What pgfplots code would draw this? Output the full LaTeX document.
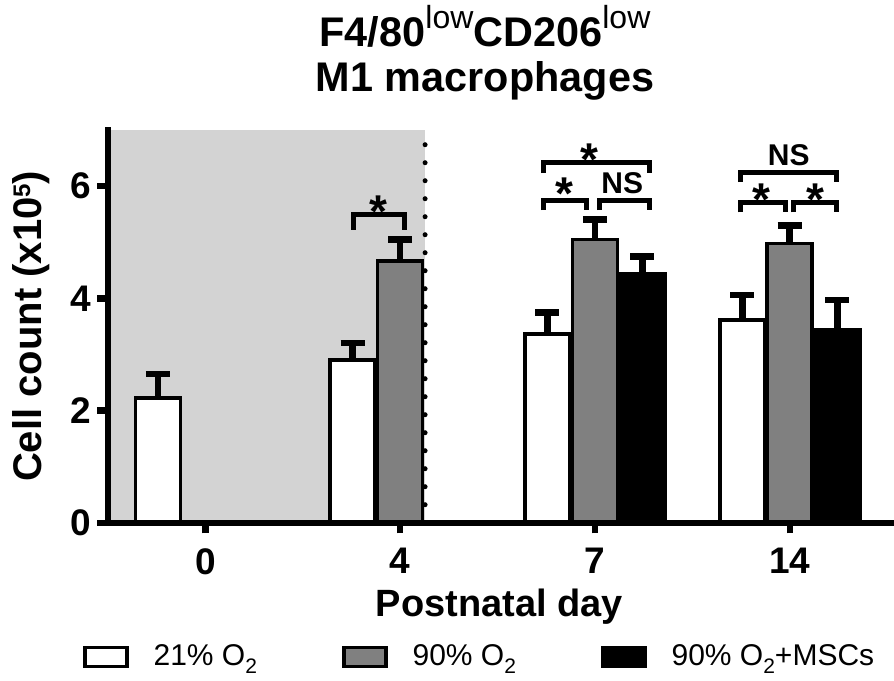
\documentclass[border=0pt]{standalone}
\usepackage{fontspec}
\setmainfont{Liberation Sans}
\usepackage{graphicx}
\usepackage{pgfplots}
\pgfplotsset{compat=1.18}
\usepackage{pgfplotstable}

\definecolor{shade}{RGB}{211,211,211}
\definecolor{midgray}{RGB}{128,128,128}

\newcommand\sups[1]{\raisebox{9pt}{\fontsize{16}{16}\selectfont\mdseries #1}}
\newcommand\sub[1]{\raisebox{-3.9pt}{\fontsize{10.5}{10.5}\selectfont #1}}
\newcommand\st{\raisebox{-0.56em}[0.16em][0.16em]{*}}

\pgfplotstableread{
x y e
0 2.22 0.43
1 2.90 0.30
2 3.36 0.39
3 3.61 0.45
}\airtable
\pgfplotstableread{
x y e
1 4.66 0.39
2 5.05 0.36
3 4.98 0.32
}\hyptable
\pgfplotstableread{
x y e
2 4.44 0.31
3 3.44 0.53
}\msctable

\begin{document}
\begin{tikzpicture}
\begin{axis}[
  at={(0,0)}, anchor=south west,
  scale only axis, width=391.5pt, height=196.35pt,
  xmin=-0.5, xmax=3.52, ymin=0, ymax=7,
  axis lines*=left,
  axis on top,
  axis line style={line width=3.2pt, line cap=rect, black},
  xtick={0,1,2,3}, xticklabels={0,4,7,14},
  ytick={0,2,4,6},
  tick align=outside,
  major tick length=5.3pt,
  tick style={line width=3.2pt, black},
  /pgf/number format/assume math mode=true,
  ticklabel style={font=\fontsize{18.5}{18.5}\selectfont\bfseries, inner sep=0pt},
  xticklabel style={anchor=north, yshift=-7.35pt},
  yticklabel style={anchor=east, xshift=-3pt},
  xlabel={Postnatal day},
  ylabel={Cell count (x10\raisebox{5.8pt}{\fontsize{12}{12}\selectfont 5})},
  xlabel style={font=\fontsize{19}{19}\selectfont\bfseries, at={(axis description cs:0.5,-0.2401)}, anchor=base, inner sep=0pt},
  ylabel style={font=\fontsize{20}{20}\selectfont\bfseries, at={(axis description cs:-0.0847,0.5)}, anchor=base, inner sep=0pt},
  bar width=22.5pt,
  mybar/.style={ybar, bar shift=0pt, line width=1.8pt, draw=black,
    legend image code/.code={\draw[##1, line width=1.8pt] (0pt,-4.75pt) rectangle (21pt,4.75pt);}},
  legend style={draw=none, fill=none, inner sep=0pt, outer sep=0pt,
    at={(axis description cs:-0.0319,-0.342)}, anchor=west,
    legend columns=3,
    /tikz/every odd column/.append style={column sep=12.5pt},
    /tikz/every even column/.append style={column sep=42.5pt},
    font=\fontsize{15}{15}\selectfont,
    nodes={inner sep=0pt}},
  legend cell align=left,
  ebar/.style={error bars/.cd, y dir=plus, y explicit,
    error bar style={line width=3.3pt, black},
    error mark options={rotate=90, line width=3.3pt, mark size=6pt, black}},
]
% shaded hyperoxia period
\addplot[fill=shade, draw=none, forget plot] coordinates {(-0.5,0) (-0.5,7) (1.128,7) (1.128,0)} -- cycle;
\addplot[black, line width=2.5pt, dash pattern=on 0pt off 9pt, line cap=round, forget plot] coordinates {(1.128,0) (1.128,7)};

\addplot[mybar, fill=white, ebar] table[x expr=\thisrow{x}-0.2439, y=y, y error=e] {\airtable};
\addlegendentry{21\% O\sub{2}}
\addplot[mybar, fill=midgray, ebar] table[x=x, y=y, y error=e] {\hyptable};
\addlegendentry{90\% O\sub{2}}
\addplot[mybar, fill=black, ebar] table[x expr=\thisrow{x}+0.2439, y=y, y error=e] {\msctable};
\addlegendentry{90\% O\sub{2}+MSCs}

% significance brackets
\addplot[black, line width=2.6pt, forget plot] coordinates {(0.759,5.22) (0.759,5.50) (1.023,5.50) (1.023,5.22)};
\addplot[black, line width=2.5pt, forget plot] coordinates {(1.736,5.57) (1.736,5.74) (1.958,5.74) (1.958,5.57)};
\addplot[black, line width=2.5pt, forget plot] coordinates {(2.022,5.57) (2.022,5.74) (2.278,5.74) (2.278,5.57)};
\addplot[black, line width=2.5pt, forget plot] coordinates {(1.736,6.23) (1.736,6.42) (2.278,6.42) (2.278,6.23)};
\addplot[black, line width=2.5pt, forget plot] coordinates {(2.747,5.53) (2.747,5.71) (2.979,5.71) (2.979,5.53)};
\addplot[black, line width=2.5pt, forget plot] coordinates {(3.017,5.53) (3.017,5.71) (3.239,5.71) (3.239,5.53)};
\addplot[black, line width=2.5pt, forget plot] coordinates {(2.747,6.07) (2.747,6.25) (3.239,6.25) (3.239,6.07)};

\tikzset{star/.style={font=\fontsize{23}{23}\selectfont\bfseries, anchor=center, inner sep=0pt},
         ns/.style={font=\fontsize{15}{15}\selectfont\bfseries, anchor=center, inner sep=0pt}}
\node[star] at (axis cs:0.889,5.73) {\st};
\node[star] at (axis cs:1.974,6.65) {\st};
\node[star] at (axis cs:1.846,6.05) {\st};
\node[ns] at (axis cs:2.14,6.06) {NS};
\node[ns] at (axis cs:2.995,6.55) {NS};
\node[star] at (axis cs:2.856,5.94) {\st};
\node[star] at (axis cs:3.132,5.94) {\st};
\end{axis}
\node[anchor=base, inner sep=0pt] at (188.5pt,238.1pt) {\fontsize{20.7}{20.7}\selectfont\bfseries F4/80\sups{low}CD206\sups{low}};
\node[anchor=base, inner sep=0pt] at (188.5pt,215.35pt) {\fontsize{20.7}{20.7}\selectfont\bfseries M1 macrophages};
\pgfresetboundingbox
\path[use as bounding box] (-54pt,-78.65pt) rectangle (393pt,261.35pt);
\end{tikzpicture}
\end{document}
